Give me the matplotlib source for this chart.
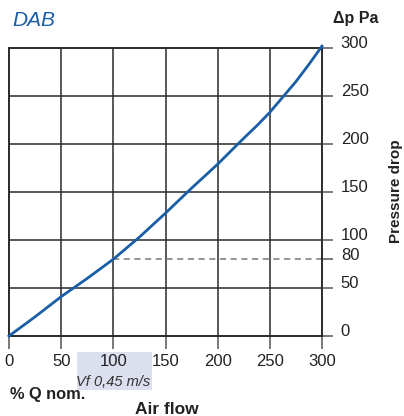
import numpy as np
import matplotlib
matplotlib.use("Agg")
import matplotlib.pyplot as plt
from matplotlib.patches import Rectangle
from matplotlib.transforms import ScaledTranslation, blended_transform_factory

plt.rcParams['font.family'] = ['Liberation Sans', 'DejaVu Sans']

# curve
air_flow = [0, 25, 50, 75, 100, 125, 150, 175, 200, 225, 237.5, 250, 262.5, 275, 287.5, 300]
pressure = [0, 20, 41, 60, 80, 103, 128, 154, 179, 206, 219, 233, 249, 265, 283, 302]

x_ticks = [0, 50, 100, 150, 200, 250, 300]
y_ticks = [0, 50, 80, 100, 150, 200, 250, 300]
nominal_flow = 100
nominal_drop = 80

line_col = '#2a2a2a'
blue = '#1a5ea8'
text_col = '#222222'

fig = plt.figure(figsize=(4.04, 4.16), dpi=100)
ax = fig.add_axes([9 / 404, 80 / 416, 313 / 404, 288 / 416])
ax.set_xlim(0, 300)
ax.set_ylim(0, 300)

for v in x_ticks[1:-1]:
    ax.axvline(v, color=line_col, lw=1.1, zorder=1)
for v in [50, 100, 150, 200, 250]:
    ax.axhline(v, color=line_col, lw=1.1, zorder=1)
for s in ax.spines.values():
    s.set_color(line_col)
    s.set_linewidth(1.4)

ax.hlines(nominal_drop, nominal_flow, 300, colors='#777777', linestyles=(0, (4, 3)), lw=1.1, zorder=2)
ax.plot(air_flow, pressure, color=blue, lw=2.0, zorder=3, clip_on=False)

ax.set_xticks(x_ticks)
ax.set_xticklabels([str(v) for v in x_ticks])
ax.tick_params(axis='x', direction='out', length=9.5, width=1.1, color='#555555',
               pad=3.5, labelsize=12, labelcolor=text_col)
ax.yaxis.tick_right()
ax.set_yticks(y_ticks)
ax.set_yticklabels([str(v) for v in y_ticks])
ax.tick_params(axis='y', direction='out', length=8, width=1.1, color='#555555',
               pad=5.5, labelsize=12, labelcolor=text_col)
for lab in ax.get_yticklabels():
    lab.set_transform(lab.get_transform() + ScaledTranslation(0, 5.5 / 100, fig.dpi_scale_trans))

# highlighted nominal flow box under the axis
tr = blended_transform_factory(ax.transData, ax.transAxes)
ax.add_patch(Rectangle((65, -0.1875), 72, 0.132, transform=tr, facecolor='#dcdfee',
                       edgecolor='none', clip_on=False, zorder=0))
ax.text(nominal_flow, -0.16, 'Vf 0,45 m/s', transform=tr, ha='center', va='center',
        fontsize=10.5, style='italic', color='#333333')

fig.text(12 / 404, 1 - 20 / 416, 'DAB', fontsize=15, style='italic', color=blue, va='center')
fig.text(356 / 404, 1 - 19 / 416, '\u0394p Pa', fontsize=11.5, fontweight='bold',
         color=text_col, ha='center', va='center')
fig.text(10 / 404, 1 - 394 / 416, '% Q nom.', fontsize=11.8, fontweight='bold',
         color=text_col, va='center')
fig.text(167 / 404, 1 - 409 / 416, 'Air flow', fontsize=12.5, fontweight='bold',
         color=text_col, ha='center', va='center')
fig.text(396 / 404, 1 - 191 / 416, 'Pressure drop', fontsize=11, fontweight='bold',
         color=text_col, ha='center', va='center', rotation=90)

fig.savefig('out.png', dpi=100)
